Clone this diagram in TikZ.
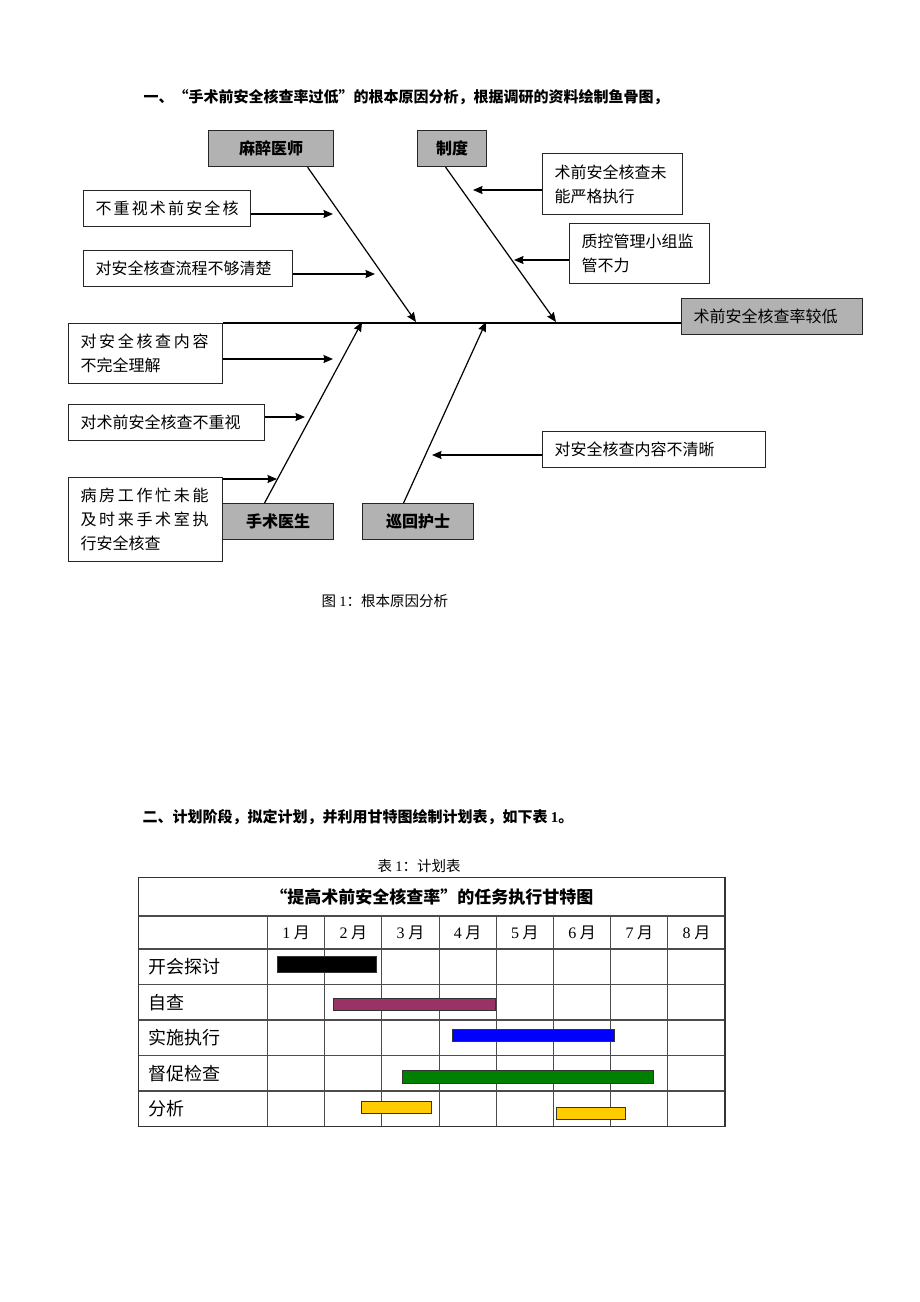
\documentclass[tikz,border=0pt]{standalone}
\usepackage{fontspec}
\setmainfont{Noto Sans CJK SC}
\newfontfamily\latinserif{Liberation Serif}
\usetikzlibrary{arrows.meta}

\definecolor{barmaroon}{HTML}{993366}
\definecolor{barblue}{HTML}{0000FF}
\definecolor{bargreen}{HTML}{008000}
\definecolor{bargold}{HTML}{FFCC00}

\newcommand\causefont{\fontsize{16}{24}\selectfont}
\newcommand\jline[2]{\makebox[#1][s]{\spaceskip=0pt plus 1fil\relax #2}}

\begin{document}
\begin{tikzpicture}[x=1pt,y=-1pt,>={Stealth[length=9.5pt,width=8pt,inset=1pt]},
    cause/.style={draw=black!85,line width=1.1pt,anchor=north west,align=left,inner xsep=12pt,inner ysep=0pt,font=\causefont},
    bone/.style={draw=black!85,fill=black!30,line width=1.1pt,anchor=north west,inner sep=0pt,minimum height=36pt,font=\bfseries\causefont},
    arr/.style={->,line width=1.2pt},
    grid/.style={draw=black!70,line width=1.1pt},
    bar/.style={draw=black!80,line width=0.8pt},
    month/.style={font=\fontsize{16}{19}\selectfont},
    task/.style={anchor=west,font=\fontsize{18}{21}\selectfont}]
    \fill[white] (0,0) rectangle (920,1302);
    \useasboundingbox (0,0) rectangle (920,1302);

    % fishbone
    \node[anchor=west,font=\bfseries\fontsize{15}{18}\selectfont] (h1) at (140,97) {一、“手术前安全核查率过低”的根本原因分析，根据调研的资料绘制鱼骨图，};

    \node[bone,minimum width=125pt] (mz) at (208,130) {麻醉医师};
    \node[bone,minimum width=69pt] (zd) at (417,130) {制度};
    \node[bone,minimum width=111pt] (ss) at (222,503) {手术医生};
    \node[bone,minimum width=111pt] (xh) at (362,503) {巡回护士};
    \node[bone,font=\causefont,align=left,text width=157pt,inner xsep=12pt] (head) at (681,298) {术前安全核查率较低};

    \node[cause,text width=143pt,minimum height=36pt] (c1) at (83,190) {\jline{143pt}{不 重 视 术 前 安 全 核}};
    \node[cause,text width=185pt,minimum height=36pt] (c2) at (83,250) {对安全核查流程不够清楚};
    \node[cause,text width=116pt,minimum height=61pt] (c3) at (542,153) {术前安全核查未\\能严格执行};
    \node[cause,text width=116pt,minimum height=60pt] (c4) at (569,223) {质控管理小组监\\管不力};
    \node[cause,text width=130pt,minimum height=60pt] (c5) at (68,323) {\jline{128pt}{对 安 全 核 查 内 容}\\不完全理解};
    \node[cause,text width=172pt,minimum height=36pt] (c6) at (68,404) {对术前安全核查不重视};
    \node[cause,text width=130pt,minimum height=84pt] (c7) at (68,477) {\jline{128pt}{病 房 工 作 忙 未 能}\\\jline{128pt}{及 时 来 手 术 室 执}\\行安全核查};
    \node[cause,text width=199pt,minimum height=36pt] (c8) at (542,431) {对安全核查内容不清晰};

    \coordinate (mzj) at (416,322);
    \coordinate (zdj) at (556,322);
    \coordinate (ssj) at (362,322);
    \coordinate (xhj) at (486,322);
    \coordinate (a1) at (333,214);
    \coordinate (a2) at (375,274);
    \coordinate (a3) at (473,190);
    \coordinate (a4) at (514,260);
    \coordinate (a5) at (333,359);
    \coordinate (a6) at (305,417);
    \coordinate (a7) at (277,479);
    \coordinate (a8) at (432,455);

    \draw[line width=1.2pt] (c5.north east) -- (c5.north east -| head.west);
    \draw[arr] ([xshift=36.5pt]mz.south) -- (mzj);
    \draw[arr] ([xshift=-6.5pt]zd.south) -- (zdj);
    \draw[arr] ([xshift=-13.5pt]ss.north) -- (ssj);
    \draw[arr] ([xshift=-14.5pt]xh.north) -- (xhj);

    \draw[arr] (c1.east |- a1) -- (a1);
    \draw[arr] (c2.east |- a2) -- (a2);
    \draw[arr] (c3.west |- a3) -- (a3);
    \draw[arr] (c4.west |- a4) -- (a4);
    \draw[arr] (c5.east |- a5) -- (a5);
    \draw[arr] (c6.east |- a6) -- (a6);
    \draw[arr] (c7.east |- a7) -- (a7);
    \draw[arr] (c8.west |- a8) -- (a8);

    \node[anchor=west,font=\fontsize{14.5}{17}\selectfont] (cap1) at (318,601) {图 {\latinserif 1}：根本原因分析};

    % gantt chart
    \node[anchor=west,font=\bfseries\fontsize{15}{18}\selectfont] (h2) at (139,817) {二、计划阶段，拟定计划，并利用甘特图绘制计划表，如下表 {\latinserif 1}。};
    \node[anchor=west,font=\fontsize{14.5}{17}\selectfont] (cap2) at (374,866) {表 {\latinserif 1}：计划表};

    \draw[grid] (138.5,916) -- (725,916) (138.5,949) -- (725,949)
        (138.5,984.5) -- (725,984.5) (138.5,1020) -- (725,1020)
        (138.5,1055.5) -- (725,1055.5) (138.5,1091) -- (725,1091);
    \draw[grid] (267.5,916) -- (267.5,1126.5) (324.7,916) -- (324.7,1126.5)
        (381.9,916) -- (381.9,1126.5) (439.1,916) -- (439.1,1126.5)
        (496.3,916) -- (496.3,1126.5) (553.5,916) -- (553.5,1126.5)
        (610.7,916) -- (610.7,1126.5) (667.9,916) -- (667.9,1126.5);
    \draw[grid,draw=black!80] (138.5,877.5) rectangle (725,1126.5);

    \node[font=\bfseries\fontsize{17}{20}\selectfont] (title) at (431.75,897) {“提高术前安全核查率”的任务执行甘特图};

    \node[month] (m1) at (296.1,933) {{\latinserif 1} 月};
    \node[month] (m2) at (353.3,933) {{\latinserif 2} 月};
    \node[month] (m3) at (410.5,933) {{\latinserif 3} 月};
    \node[month] (m4) at (467.7,933) {{\latinserif 4} 月};
    \node[month] (m5) at (524.9,933) {{\latinserif 5} 月};
    \node[month] (m6) at (582.1,933) {{\latinserif 6} 月};
    \node[month] (m7) at (639.3,933) {{\latinserif 7} 月};
    \node[month] (m8) at (696.5,933) {{\latinserif 8} 月};

    \node[task] (t1) at (145,966.7) {开会探讨};
    \node[task] (t2) at (145,1002.2) {自查};
    \node[task] (t3) at (145,1037.7) {实施执行};
    \node[task] (t4) at (145,1073.2) {督促检查};
    \node[task] (t5) at (145,1108.7) {分析};

    \filldraw[bar,fill=black] (277.5,956) rectangle (376,972);
    \filldraw[bar,fill=barmaroon] (333.5,998) rectangle (495,1010.5);
    \filldraw[bar,fill=barblue] (452.5,1029.5) rectangle (614.5,1041.5);
    \filldraw[bar,fill=bargreen] (402.5,1070) rectangle (653.5,1083);
    \filldraw[bar,fill=bargold] (361,1101) rectangle (431.5,1113.5);
    \filldraw[bar,fill=bargold] (556,1107) rectangle (625.5,1119.5);
\end{tikzpicture}
\end{document}
